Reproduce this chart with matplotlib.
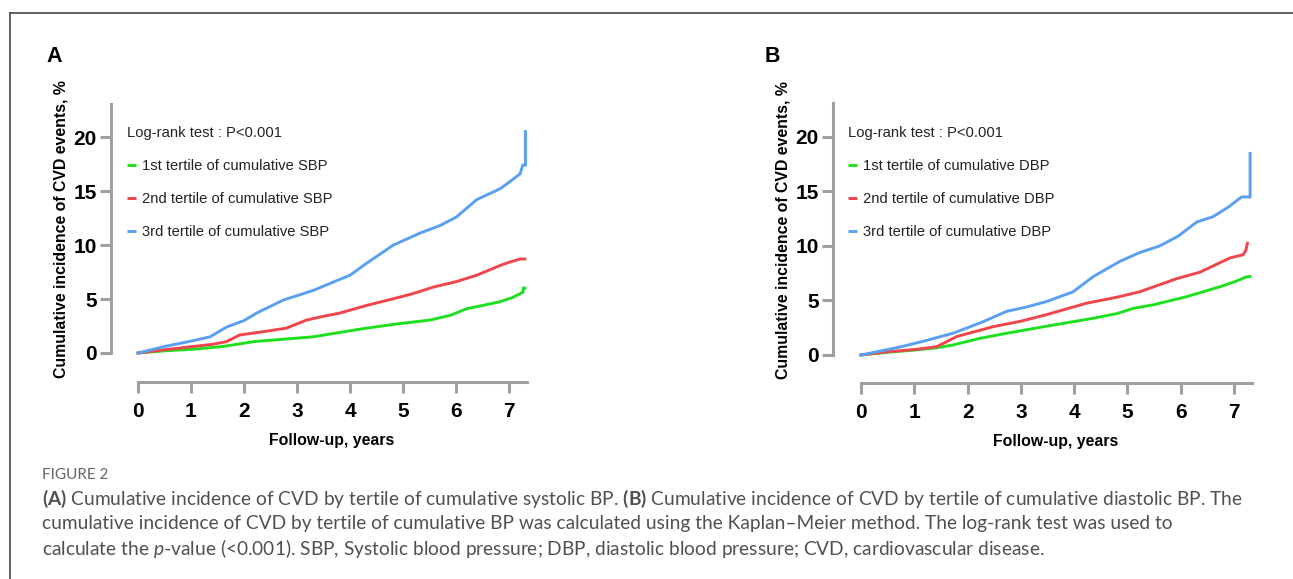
import matplotlib
matplotlib.use("Agg")
import matplotlib.pyplot as plt
from matplotlib.lines import Line2D

# ---------------- data ----------------
a_t_green = [0, 0.5, 1.04, 1.6, 2.18, 2.8, 3.31, 3.8, 4.31, 4.9, 5.51, 5.9, 6.2, 6.5, 6.83, 7.05, 7.21, 7.26, 7.27, 7.3]
a_v_green = [0, 0.2, 0.35, 0.6, 1.05, 1.3, 1.5, 1.9, 2.3, 2.7, 3.05, 3.5, 4.1, 4.4, 4.75, 5.1, 5.5, 5.6, 6.0, 6.0]
a_t_red = [0, 0.5, 1.04, 1.4, 1.67, 1.92, 2.4, 2.8, 3.18, 3.5, 3.81, 4.31, 4.8, 5.19, 5.57, 6.0, 6.39, 6.83, 7.0, 7.21, 7.3]
a_v_red = [0, 0.3, 0.6, 0.8, 1.05, 1.67, 2.0, 2.3, 3.05, 3.4, 3.7, 4.4, 5.0, 5.5, 6.1, 6.6, 7.2, 8.1, 8.4, 8.7, 8.7]
a_t_blue = [0, 0.5, 1.0, 1.36, 1.67, 2.0, 2.24, 2.74, 3.31, 3.7, 4.0, 4.31, 4.82, 5.32, 5.7, 6.01, 6.39, 6.83, 7.0, 7.21, 7.26, 7.31, 7.31]
a_v_blue = [0, 0.6, 1.1, 1.5, 2.4, 3.0, 3.7, 4.9, 5.8, 6.6, 7.2, 8.3, 10.0, 11.1, 11.8, 12.6, 14.2, 15.2, 15.8, 16.6, 17.4, 17.4, 20.5]

b_t_green = [0, 0.5, 1.0, 1.4, 1.73, 2.23, 2.73, 3.2, 3.61, 4.36, 4.8, 5.11, 5.48, 6.11, 6.74, 7.0, 7.24, 7.3]
b_v_green = [0, 0.25, 0.45, 0.65, 0.92, 1.53, 1.99, 2.4, 2.75, 3.37, 3.8, 4.28, 4.6, 5.35, 6.27, 6.7, 7.18, 7.2]
b_t_red = [0, 0.5, 1.0, 1.42, 1.8, 2.48, 3.0, 3.48, 4.23, 4.8, 5.23, 5.92, 6.36, 6.92, 7.17, 7.22, 7.25]
b_v_red = [0, 0.3, 0.5, 0.76, 1.7, 2.6, 3.1, 3.7, 4.75, 5.3, 5.8, 7.0, 7.6, 8.9, 9.2, 9.6, 10.25]
b_t_blue = [0, 0.5, 0.79, 1.2, 1.73, 2.29, 2.73, 3.1, 3.48, 3.98, 4.36, 4.86, 5.23, 5.6, 5.95, 6.3, 6.61, 6.9, 7.14, 7.3, 7.3]
b_v_blue = [0, 0.5, 0.8, 1.3, 2.0, 3.05, 4.0, 4.4, 4.9, 5.8, 7.2, 8.6, 9.4, 10.0, 10.9, 12.2, 12.7, 13.6, 14.5, 14.5, 18.5]

x_ticks = [0, 1, 2, 3, 4, 5, 6, 7]
y_ticks = [0, 5, 10, 15, 20]
legend_a = ["1st tertile of cumulative SBP", "2nd tertile of cumulative SBP", "3rd tertile of cumulative SBP"]
legend_b = ["1st tertile of cumulative DBP", "2nd tertile of cumulative DBP", "3rd tertile of cumulative DBP"]
test_text = "Log-rank test : P<0.001"
xlabel = "Follow-up, years"
ylabel = "Cumulative incidence of CVD events, %"

GREEN = "#1fe01f"
RED = "#f0454a"
BLUE = "#5aa0f0"
AX_GRAY = "#a0a0a0"

W, H, DPI = 1293, 579, 100
plt.rcParams["font.family"] = ["Liberation Sans", "DejaVu Sans"]
plt.rcParams["mathtext.fontset"] = "custom"
plt.rcParams["mathtext.rm"] = "Lato"
plt.rcParams["mathtext.bf"] = "Lato:bold"
plt.rcParams["mathtext.it"] = "Lato:italic"

fig = plt.figure(figsize=(W / DPI, H / DPI), dpi=DPI)


def px2pt(p):
    return p * 72.0 / DPI


def make_axes(x0px, ppx, y0px, ppy, spine_x_px, spine_y_px):
    xlim = (-0.05, 7.36)
    ylim = (-0.3, 23.3)
    left = x0px + ppx * xlim[0]
    right = x0px + ppx * xlim[1]
    top = y0px - ppy * ylim[1]
    bottom = y0px - ppy * ylim[0]
    ax = fig.add_axes([left / W, 1 - bottom / H, (right - left) / W, (bottom - top) / H])
    ax.set_xlim(*xlim)
    ax.set_ylim(*ylim)
    for s in ("top", "right"):
        ax.spines[s].set_visible(False)
    ax.spines["left"].set_position(("outward", px2pt(left - spine_x_px)))
    ax.spines["bottom"].set_position(("outward", px2pt(spine_y_px - bottom)))
    ax.spines["left"].set_bounds(0, 23.1)
    ax.spines["bottom"].set_bounds(0, 7.34)
    for s in ("left", "bottom"):
        ax.spines[s].set_color(AX_GRAY)
        ax.spines[s].set_linewidth(2.2)
    ax.set_xticks(x_ticks)
    ax.set_yticks(y_ticks)
    ax.tick_params(axis="both", colors=AX_GRAY, width=2.2, length=px2pt(11), labelcolor="black",
                   labelsize=15)
    ax.tick_params(axis="x", pad=px2pt(9))
    ax.tick_params(axis="y", pad=px2pt(3))
    for lab in ax.get_xticklabels() + ax.get_yticklabels():
        lab.set_fontweight("bold")
    ax.set_xlabel(xlabel, fontsize=11.4, fontweight="bold", labelpad=px2pt(12))
    ax.set_ylabel(ylabel, fontsize=11.4, fontweight="bold", labelpad=px2pt(5))
    return ax


def draw_panel(ax, series, labels):
    handles = []
    for (t, v, c), lab in zip(series, labels):
        ax.plot(t, v, color=c, lw=2.1, solid_joinstyle="miter", label=lab, clip_on=False)
        handles.append(Line2D([0], [0], color=c, lw=2.1, solid_capstyle="butt"))
    leg = ax.legend(handles, labels, title=test_text, loc="upper left", frameon=False,
                    fontsize=10.6, title_fontsize=10.6, handlelength=0.62, handletextpad=0.42,
                    labelspacing=1.29, borderaxespad=0, borderpad=0,
                    bbox_to_anchor=(0.0, 0.0))
    leg._legend_box.align = "left"
    leg.get_title().set_color("#222222")
    for tx in leg.get_texts():
        tx.set_color("#222222")
    return leg


axA = make_axes(138, 53.0, 353, 10.8, 111, 382)
legA = draw_panel(axA, [(a_t_green, a_v_green, GREEN), (a_t_red, a_v_red, RED), (a_t_blue, a_v_blue, BLUE)], legend_a)
legA.set_bbox_to_anchor((127 / W, 1 - 126.5 / H), transform=fig.transFigure)

axB = make_axes(861, 53.3, 355, 10.9, 833, 383)
legB = draw_panel(axB, [(b_t_green, b_v_green, GREEN), (b_t_red, b_v_red, RED), (b_t_blue, b_v_blue, BLUE)], legend_b)
legB.set_bbox_to_anchor((848 / W, 1 - 126.5 / H), transform=fig.transFigure)

# panel letters
fig.text(54.5 / W, 1 - 56 / H, "A", fontsize=15.5, fontweight="bold", va="center", ha="center")
fig.text(772.5 / W, 1 - 56 / H, "B", fontsize=15.5, fontweight="bold", va="center", ha="center")

# frame lines (top and left)
fig.add_artist(Line2D([10 / W, 1], [1 - 13 / H, 1 - 13 / H], color="#555555", lw=1.3, transform=fig.transFigure))
fig.add_artist(Line2D([10 / W, 10 / W], [0, 1 - 13 / H], color="#555555", lw=1.3, transform=fig.transFigure))

# caption
cap_color = "#505050"
fig.text(42 / W, 1 - 475 / H, "FIGURE 2", fontsize=11, color="#666666", va="center", ha="left",
         family="Lato")
cap_lines = [
    r"$\mathbf{(A)}$ Cumulative incidence of CVD by tertile of cumulative systolic BP. $\mathbf{(B)}$ Cumulative incidence of CVD by tertile of cumulative diastolic BP. The",
    "cumulative incidence of CVD by tertile of cumulative BP was calculated using the Kaplan\u2013Meier method. The log-rank test was used to",
    r"calculate the $p$-value (<0.001). SBP, Systolic blood pressure; DBP, diastolic blood pressure; CVD, cardiovascular disease.",
]
for i, s in enumerate(cap_lines):
    fig.text(42 / W, 1 - (499 + 25 * i) / H, s, fontsize=13.8, color=cap_color, va="center", ha="left",
             family="Lato")

fig.savefig("out.png", dpi=DPI)
